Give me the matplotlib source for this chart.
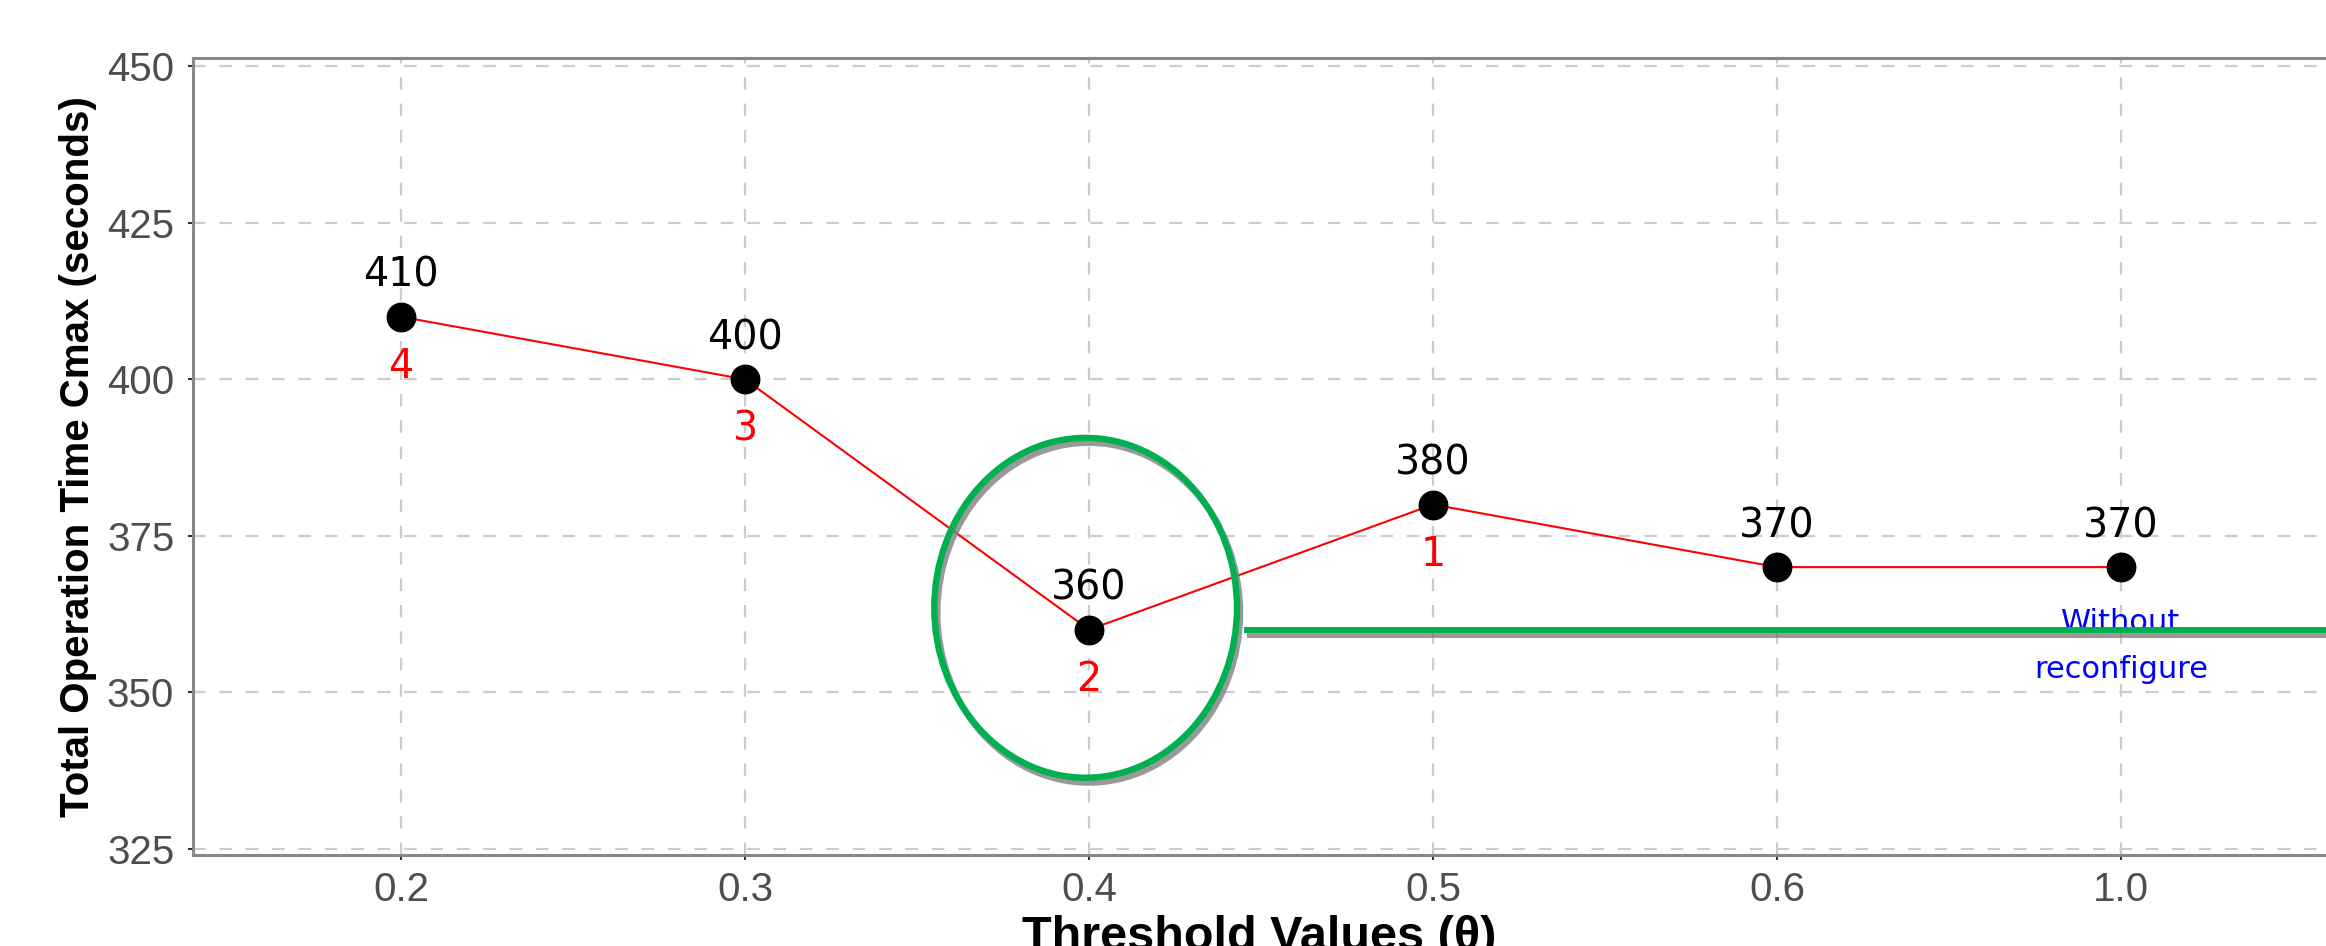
import matplotlib
matplotlib.use('Agg')
import matplotlib.pyplot as plt
from matplotlib.patches import Ellipse
from matplotlib import patheffects as pe
from matplotlib import font_manager as fm

# ---- data ----
thresholds = ['0.2', '0.3', '0.4', '0.5', '0.6', '1.0']
cmax = [410, 400, 360, 380, 370, 370]
ranks = ['4', '3', '2', '1', '', '']
y_ticks = [325, 350, 375, 400, 425, 450]
baseline_value = 360
baseline_label = 'Without\nreconfigure'
best_index = 2

plt.rcParams['lines.scale_dashes'] = False


def has_font(name):
    try:
        fm.findfont(fm.FontProperties(family=name, weight='bold'), fallback_to_default=False)
        return True
    except Exception:
        return False


W, H = 2326, 946
fig = plt.figure(figsize=(W / 100, H / 100), dpi=100, facecolor='white')
left_px, right_px, top_px, bot_px = 193, 2326, 58, 855
ax = fig.add_axes([left_px / W, 1 - bot_px / H, (right_px - left_px) / W, (bot_px - top_px) / H])

x = list(range(len(thresholds)))
ax.set_xlim(-0.605, 5.596)
ax.set_ylim(324.0, 451.35)

ax.set_axisbelow(True)
ax.grid(True, color='#cccccc', lw=1.6, linestyle=(0, (9, 10)))

ax.plot(x, cmax, color='red', lw=1.5, zorder=3)
ax.plot(x, cmax, 'o', color='black', ms=20.5, zorder=4)

for xi, v, r in zip(x, cmax, ranks):
    ax.annotate(str(v), (xi, v), xytext=(0, 21.6), textcoords='offset points',
                ha='center', va='baseline', fontsize=28.5, family='DejaVu Sans', color='black', zorder=5)
    if r:
        ax.annotate(r, (xi, v), xytext=(0, -43.9), textcoords='offset points',
                    ha='center', va='baseline', fontsize=28.5, family='DejaVu Sans', color='red', zorder=5)

shadow = [pe.SimpleLineShadow(offset=(2.2, -3.5), shadow_color='#808080', alpha=0.8), pe.Normal()]
ell = Ellipse((best_index - 0.01, 363.5), width=0.88, height=54.3, fill=False,
              ec='#00B050', lw=4.6, zorder=6, path_effects=shadow)
ax.add_patch(ell)

ax.plot([2.45, 6.0], [baseline_value, baseline_value], color='#00B050', lw=4.3,
        solid_capstyle='butt', zorder=6, path_effects=shadow)

ax.text(len(thresholds) - 1, 363.4, baseline_label, ha='center', va='top', color='#0000FF',
        fontsize=22, family='DejaVu Sans', linespacing=1.75, zorder=2.5)

ax.set_xticks(x)
ax.set_xticklabels(thresholds)
ax.set_yticks(y_ticks)
ax.tick_params(axis='both', length=3.5, width=1.5, color='#333333', labelcolor='#4D4D4D',
               labelsize=29)
ax.tick_params(axis='x', pad=8)
ax.tick_params(axis='y', pad=10)
for lab in ax.get_xticklabels() + ax.get_yticklabels():
    lab.set_family('Liberation Sans')

for side in ['left', 'top', 'bottom']:
    ax.spines[side].set_color('#888888')
    ax.spines[side].set_linewidth(2.2)
ax.spines['right'].set_visible(False)

if has_font('Liberation Sans Narrow'):
    yfam, ysize = 'Liberation Sans Narrow', 35
else:
    yfam, ysize = 'Liberation Sans', 29
ax.set_ylabel('Total Operation Time Cmax (seconds)', fontsize=ysize, fontweight='bold',
              family=yfam, color='black')
ax.yaxis.label.set_va('center')
ax.yaxis.set_label_coords((78 - left_px) / (right_px - left_px), 0.5)

ax.set_xlabel('Threshold Values (θ)', fontsize=35, fontweight='bold',
              family='Liberation Sans', color='black')
ax.xaxis.set_label_coords(0.5, -(915 - bot_px) / (bot_px - top_px))

fig.savefig('out.png', dpi=100, facecolor='white')
